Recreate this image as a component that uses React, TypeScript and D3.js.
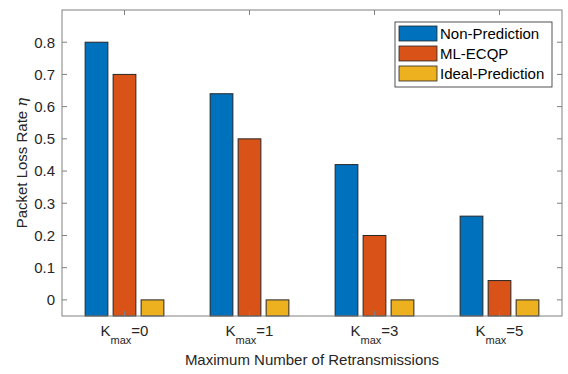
import * as d3 from 'd3';

const categories = ['0', '1', '3', '5'];
const seriesNames = ['Non-Prediction', 'ML-ECQP', 'Ideal-Prediction'];
const nonPrediction = [0.8, 0.64, 0.42, 0.26];
const mlEcqp = [0.7, 0.5, 0.2, 0.06];
const idealPrediction = [0, 0, 0, 0];
const yTicks = [0, 0.1, 0.2, 0.3, 0.4, 0.5, 0.6, 0.7, 0.8];
const colors = ['#0072BD', '#D95319', '#EDB120'];

const W = 568;
const H = 374;
const left = 62;
const right = 562;
const top = 10;
const bottom = 316;
const font = '"Liberation Sans", Arial, Helvetica, sans-serif';
const textColor = '#262626';
const axisColor = '#808080';

export default function App() {
  const series = [nonPrediction, mlEcqp, idealPrediction];
  const x = d3.scaleLinear().domain([0.5, 4.5]).range([left, right]);
  const y = d3.scaleLinear().domain([-0.05, 0.9]).range([bottom, top]);
  const unit = x(1) - x(0);
  const barW = unit * 0.182;
  const offset = unit * 0.224;
  const tickLen = 5;

  return (
    <svg width={W} height={H} style={{ position: 'absolute', left: 0, top: 0 }} fontFamily={font}>
      <rect x={0} y={0} width={W} height={H} fill="#fff" />
      {/* bars run from the bottom of the axes up to the value */}
      {series.map((vals, si) =>
        vals.map((v, ci) => {
          const cx = x(ci + 1) + (si - 1) * offset;
          return (
            <rect
              key={`${si}-${ci}`}
              x={cx - barW / 2}
              y={y(v)}
              width={barW}
              height={bottom - y(v)}
              fill={colors[si]}
              stroke="#262626"
              strokeWidth={1}
            />
          );
        })
      )}
      {/* axes box */}
      <rect x={left} y={top} width={right - left} height={bottom - top} fill="none" stroke={axisColor} strokeWidth={1} />
      {/* y ticks */}
      {yTicks.map((t) => (
        <g key={t}>
          <line x1={left} x2={left + tickLen} y1={y(t)} y2={y(t)} stroke={axisColor} />
          <line x1={right} x2={right - tickLen} y1={y(t)} y2={y(t)} stroke={axisColor} />
          <text x={left - 7} y={y(t)} dy="0.36em" textAnchor="end" fontSize={15} fill={textColor}>
            {t === 0 ? '0' : t.toFixed(1)}
          </text>
        </g>
      ))}
      {/* x ticks */}
      {categories.map((c, i) => (
        <g key={c}>
          <line x1={x(i + 1)} x2={x(i + 1)} y1={bottom} y2={bottom - tickLen} stroke={axisColor} />
          <line x1={x(i + 1)} x2={x(i + 1)} y1={top} y2={top + tickLen} stroke={axisColor} />
          <text x={x(i + 1)} y={336} textAnchor="middle" fontSize={15} fill={textColor}>
            <tspan>K</tspan>
            <tspan fontSize={11} dy={8}>max</tspan>
            <tspan dy={-8}>={c}</tspan>
          </text>
        </g>
      ))}
      {/* axis labels */}
      <text x={(left + right) / 2} y={365} textAnchor="middle" fontSize={15} fill={textColor}>
        Maximum Number of Retransmissions
      </text>
      <text
        transform={`translate(27, ${(top + bottom) / 2}) rotate(-90)`}
        textAnchor="middle"
        fontSize={15}
        fill={textColor}
      >
        Packet Loss Rate <tspan fontStyle="italic" fontFamily="'DejaVu Serif', serif">η</tspan>
      </text>
      {/* legend */}
      <g>
        <rect x={395} y={22} width={157} height={65} fill="#fff" stroke="#262626" strokeWidth={0.8} />
        {seriesNames.map((n, i) => (
          <g key={n}>
            <rect x={399} y={26 + i * 20} width={38} height={15} fill={colors[i]} stroke="#262626" strokeWidth={0.8} />
            <text x={440} y={33.5 + i * 20} dy="0.36em" fontSize={15} fill="#000">
              {n}
            </text>
          </g>
        ))}
      </g>
    </svg>
  );
}
